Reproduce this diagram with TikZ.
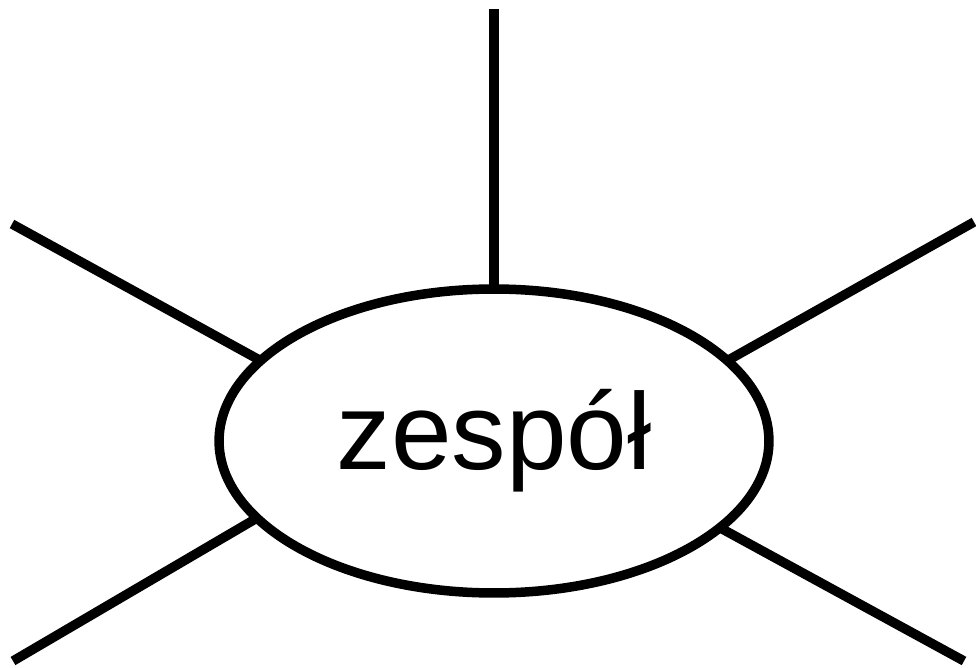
\documentclass[tikz,border=0pt]{standalone}
\usepackage{fontspec}
\setmainfont{Liberation Sans}
\usetikzlibrary{shapes.geometric}

\begin{document}
\begin{tikzpicture}[x=0.02cm, y=-0.02cm,
    spoke/.style={line width=5.4pt, black},
    hub/.style={ellipse, draw, line width=5.4pt, minimum width=11cm, minimum height=6.08cm, inner sep=0pt, outer sep=0pt, font=\fontsize{62}{70}\selectfont}]
    \useasboundingbox (0,0) rectangle (976,668);

    % Centre
    \node[hub] (zespol) at (494,441) {zespół};

    % Free ends
    \coordinate (top) at (494,9);
    \coordinate (nw) at (12,224);
    \coordinate (ne) at (974,222);
    \coordinate (sw) at (13,661);
    \coordinate (se) at (964,661);

    % Spokes
    \draw[spoke] (top) -- (zespol.north);
    \draw[spoke] (nw) -- (zespol.161);
    \draw[spoke] (ne) -- (zespol.19);
    \draw[spoke] (sw) -- (zespol.198);
    \draw[spoke] (se) -- (zespol.339);
\end{tikzpicture}
\end{document}
